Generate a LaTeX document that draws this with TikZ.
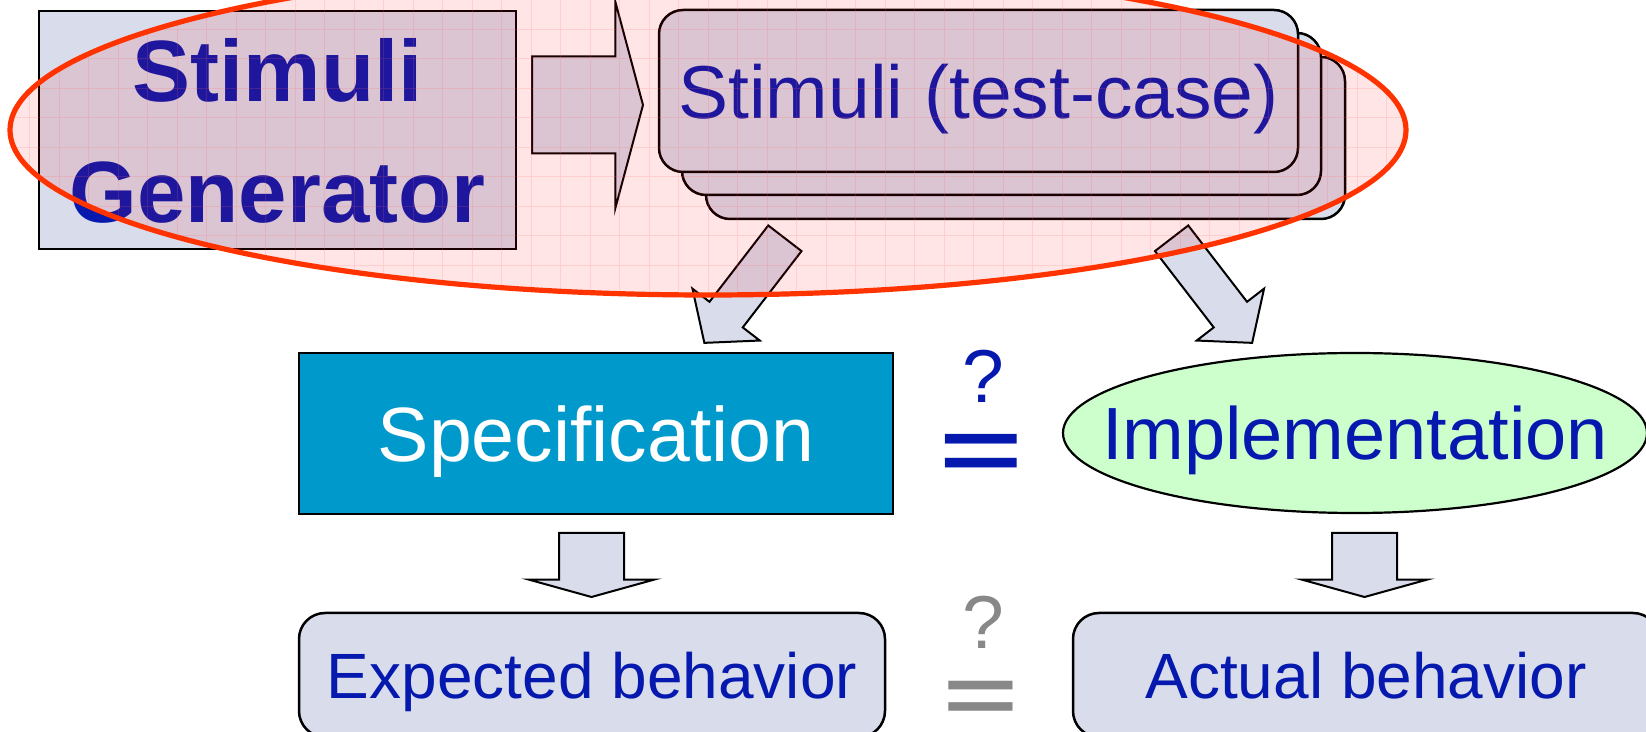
\documentclass[tikz,border=0pt]{standalone}
\usepackage{fontspec}
\setmainfont{Liberation Sans}
\usetikzlibrary{shapes.geometric,shapes.arrows}

\definecolor{boxfill}{RGB}{217,220,235}
\definecolor{txtblue}{RGB}{5,25,175}
\definecolor{specblue}{RGB}{0,153,204}
\definecolor{implgreen}{RGB}{204,255,204}
\definecolor{ringred}{RGB}{255,51,0}
\definecolor{eqgrey}{RGB}{136,136,136}

\begin{document}
\begin{tikzpicture}[x=0.5pt, y=-0.5pt,
    box/.style = {draw, line width=1.25pt, fill=boxfill, inner sep=0pt, text depth=0pt, text=txtblue},
    tcbox/.style = {box, rounded corners=12pt, minimum width=319.5pt, minimum height=81pt},
    result/.style = {box, rounded corners=13pt, minimum width=293pt, minimum height=62pt, font=\fontsize{32pt}{36pt}\selectfont},
    blockarrow/.style = {single arrow, draw, fill=boxfill, line width=1pt, inner sep=0pt, text height=0pt, text depth=0pt, minimum width=0pt, anchor=tail},
    qmark/.style = {inner sep=0pt, text depth=0pt, font=\fontsize{37.5pt}{40pt}\selectfont},
    eqsign/.style = {inner sep=0pt, anchor=base}]
    \clip (0,0) rectangle (1646,732);

    \node[box, minimum width=238.5pt, minimum height=119pt, align=center, font=\bfseries\fontsize{43.5pt}{60.5pt}\selectfont] (stimgen) at (277.5,130) {Stimuli\\Generator};

    \node[tcbox] (tcback) at (1025.5,138) {};
    \node[tcbox] (tcmid) at ([shift={(-24,-24)}]tcback.center) {};
    \node[tcbox, font=\fontsize{37.5pt}{40pt}\selectfont] (tc) at ([shift={(-23,-23)}]tcmid.center) {Stimuli (test-case)};

    \node[blockarrow, minimum height=55.5pt, inner ysep=23.75pt, single arrow head extend=27.5pt, single arrow tip angle=150] (genarrow) at (531,105) {};
    \node[blockarrow, rotate=232.4, minimum height=66pt, inner ysep=10pt, single arrow head extend=10.75pt, single arrow tip angle=100] (specarrow) at (785.5,237.5) {};
    \node[blockarrow, rotate=-52.4, minimum height=66pt, inner ysep=10pt, single arrow head extend=10.75pt, single arrow tip angle=100] (implarrow) at (1171,237.5) {};

    \begin{scope}
        \clip (708,130) ellipse [x radius=698, y radius=165];
        \fill[red, opacity=0.1] (0,-50) rectangle (1420,310);
        \draw[red!60, opacity=0.18, line width=0.5pt, step=14.75pt] (0,-50) grid (1420,310);
    \end{scope}
    \draw[ringred, line width=2.6pt] (708,130) ellipse [x radius=698, y radius=165];

    \node[box, fill=specblue, text=white, minimum width=297pt, minimum height=80.5pt, font=\fontsize{38.5pt}{40pt}\selectfont] (spec) at (596,433.5) {Specification};
    \node[box, ellipse, fill=implgreen, line width=1.1pt, inner xsep=-40pt, minimum width=292pt, minimum height=80pt, font=\fontsize{37pt}{40pt}\selectfont] (impl) at (1355,433) {Implementation};

    \node[qmark, text=txtblue] (q1) at (983,376) {?};
    \node[eqsign, text=txtblue, font=\bfseries\fontsize{71.5pt}{72pt}\selectfont] (eq1) at (981,481) {\scalebox{1}[0.62]{=}};

    \node[blockarrow, rotate=-90, minimum height=32pt, inner ysep=15.75pt, single arrow head extend=15.25pt, single arrow tip angle=149] (exparrow) at (591.5,532) {};
    \node[blockarrow, rotate=-90, minimum height=32pt, inner ysep=15.75pt, single arrow head extend=15.25pt, single arrow tip angle=149] (actarrow) at (1364.5,532) {};

    \node[result] (expected) at (592,675) {Expected behavior};
    \node[result] (actual) at (1366,675) {Actual behavior};

    \node[qmark, text=eqgrey] (q2) at (983,622) {?};
    \node[eqsign, text=eqgrey, font=\bfseries\fontsize{64pt}{66pt}\selectfont] (eq2) at (981,723) {\scalebox{1}[0.62]{=}};
\end{tikzpicture}
\end{document}
